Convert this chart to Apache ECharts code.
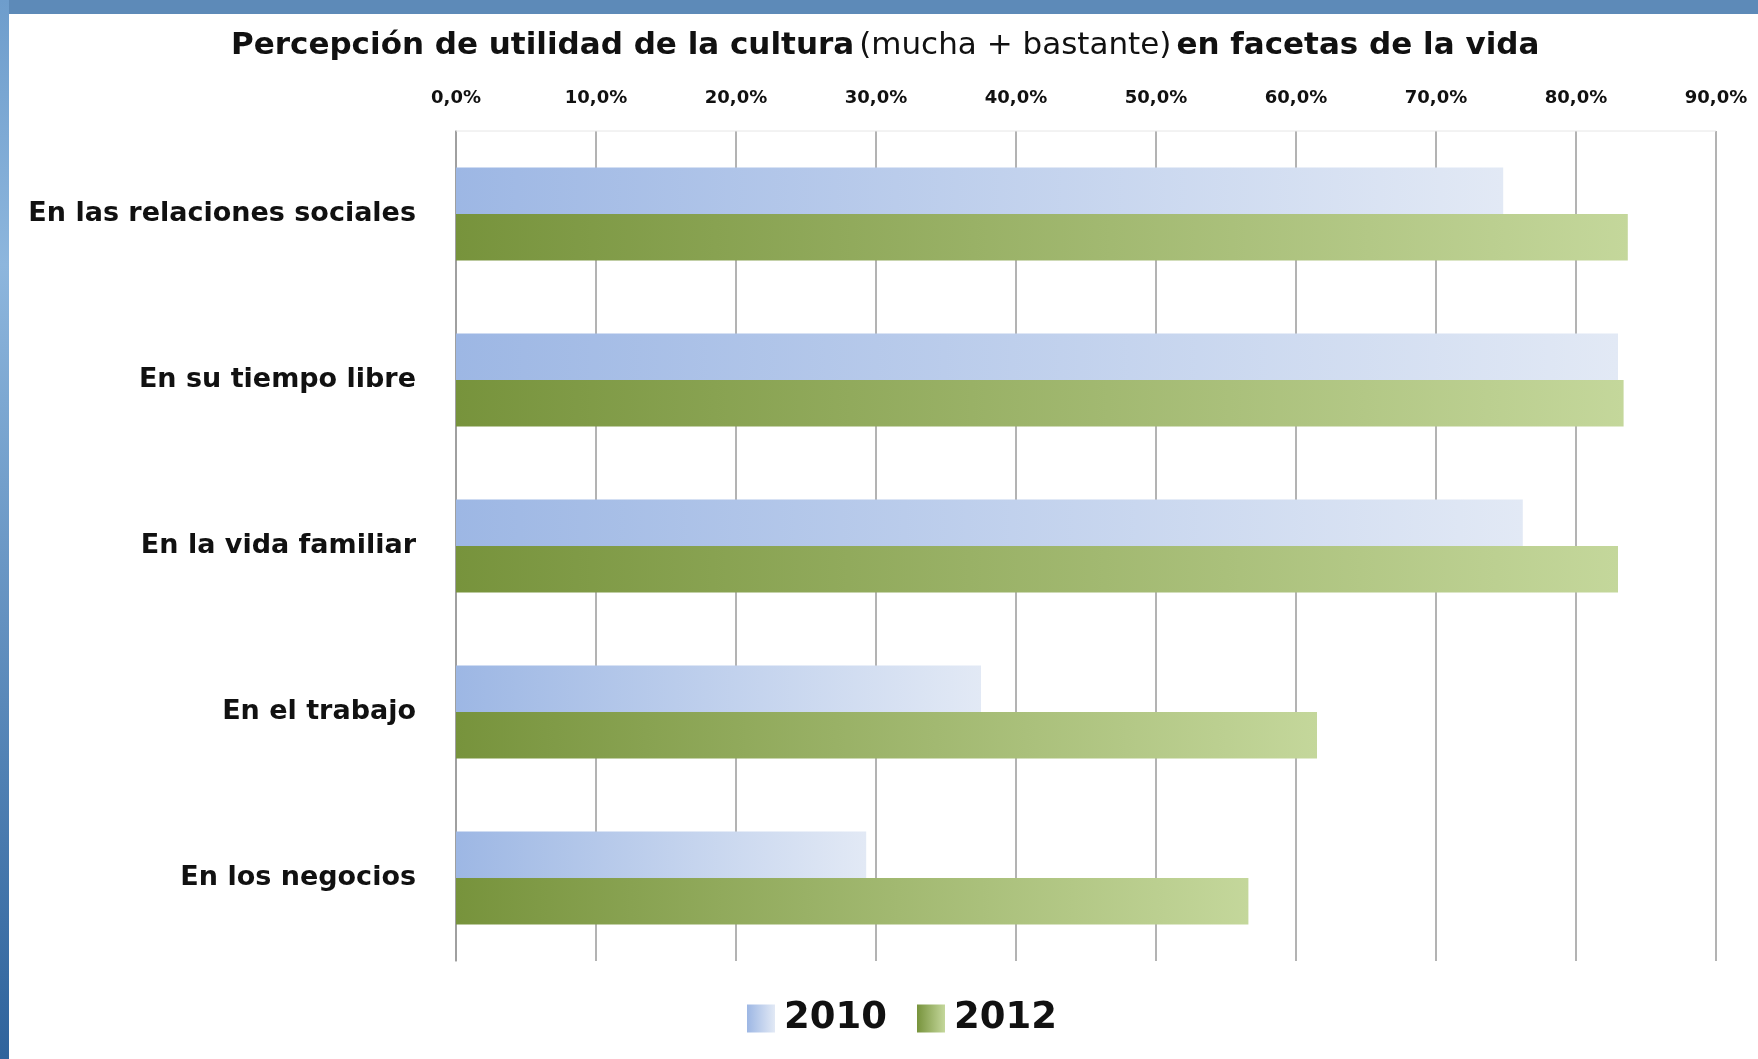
<!DOCTYPE html>
<html>
<head>
<meta charset="utf-8">
<script src="https://cdn.jsdelivr.net/npm/echarts@6/dist/echarts.min.js"></script>
<style>
html,body{margin:0;padding:0;background:#fff;}
#c{width:1758px;height:1059px;}
</style>
</head>
<body>
<div id="c"></div>
<script>
const categories = ['En las relaciones sociales', 'En su tiempo libre', 'En la vida familiar', 'En el trabajo', 'En los negocios'];
const values2010 = [74.8, 83.0, 76.2, 37.5, 29.3];
const values2012 = [83.7, 83.4, 83.0, 61.5, 56.6];
const seriesNames = ['2010', '2012'];
const xTicks = [0, 10, 20, 30, 40, 50, 60, 70, 80, 90];

const chart = echarts.init(document.getElementById('c'));
const FONT = '"DejaVu Sans", "Open Sans", sans-serif';

const grad2010 = new echarts.graphic.LinearGradient(0, 0, 1, 0, [
  {offset: 0, color: '#9db7e4'},
  {offset: 1, color: '#e2e9f5'}
]);
const grad2012 = new echarts.graphic.LinearGradient(0, 0, 1, 0, [
  {offset: 0, color: '#77933c'},
  {offset: 1, color: '#c4d79b'}
]);

chart.setOption({
  backgroundColor: '#ffffff',
  animation: false,
  title: {
    left: 226,
    top: 25,
    text: '{b|Percepción de utilidad de la cultura} {n|(mucha + bastante)} {b|en facetas de la vida}',
    textStyle: {
      rich: {
        b: {fontFamily: FONT, fontWeight: 'bold', fontSize: 31, color: '#111'},
        n: {fontFamily: FONT, fontWeight: 'normal', fontSize: 31, color: '#111'}
      }
    }
  },
  legend: {
    left: 742,
    top: 995,
    itemWidth: 28,
    itemHeight: 28,
    itemGap: 30,
    icon: 'rect',
    textStyle: {fontFamily: FONT, fontWeight: 'bold', fontSize: 37, color: '#111', padding: [0, 0, 0, 4]},
    data: seriesNames
  },
  grid: {left: 456, right: 42, top: 131, bottom: 98, containLabel: false},
  xAxis: {
    type: 'value',
    position: 'top',
    min: 0,
    max: 90,
    interval: 10,
    axisLine: {show: false},
    axisTick: {show: false},
    splitLine: {show: true, lineStyle: {color: '#9a9a9a', width: 1.5}},
    axisLabel: {
      margin: 24,
      fontFamily: FONT,
      fontWeight: 'bold',
      fontSize: 18,
      color: '#111',
      formatter: v => xTicks.includes(v) ? v.toFixed(1).replace('.', ',') + '%' : ''
    }
  },
  yAxis: {
    type: 'category',
    inverse: true,
    data: categories,
    axisLine: {show: true, lineStyle: {color: '#9a9a9a', width: 1.5}},
    axisTick: {show: false},
    splitLine: {show: false},
    axisLabel: {
      margin: 40,
      fontFamily: FONT,
      fontWeight: 'bold',
      fontSize: 27,
      color: '#111'
    }
  },
  series: [
    {
      name: seriesNames[0],
      type: 'bar',
      data: values2010,
      barGap: '0%',
      barCategoryGap: '44%',
      itemStyle: {color: grad2010}
    },
    {
      name: seriesNames[1],
      type: 'bar',
      data: values2012,
      barGap: '0%',
      barCategoryGap: '44%',
      itemStyle: {color: grad2012}
    }
  ],
  graphic: [
    {
      type: 'rect', left: 0, top: 0, z: 100,
      shape: {width: 1758, height: 14},
      style: {fill: '#5d8ab8'}
    },
    {
      type: 'rect', left: 0, top: 0, z: 100,
      shape: {width: 9, height: 1059},
      style: {fill: new echarts.graphic.LinearGradient(0, 0, 0, 1, [
        {offset: 0, color: '#6e9dcc'},
        {offset: 0.25, color: '#8db6dd'},
        {offset: 1, color: '#2f639c'}
      ])}
    },
    {
      type: 'line', z: 1,
      shape: {x1: 456, y1: 131, x2: 1716, y2: 131},
      style: {stroke: '#e6e6e6', lineWidth: 1}
    }
  ]
});
</script>
</body>
</html>
